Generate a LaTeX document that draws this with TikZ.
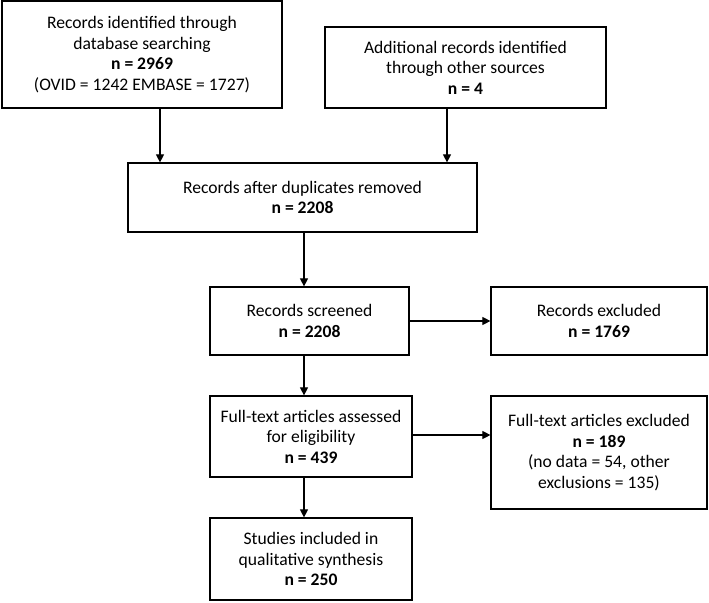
\documentclass[tikz,border=0pt]{standalone}
\usepackage{fontspec}
\setmainfont{Carlito}
\usetikzlibrary{arrows.meta}
\begin{document}
\begin{tikzpicture}[x=1pt,y=-1pt,
  box/.style={draw,line width=1.2pt,align=center,inner sep=0pt,
    font=\fontsize{17.6}{20.5}\selectfont},
  arr/.style={line width=1.1pt,-{Triangle[length=8pt,width=8pt]}}]
  \useasboundingbox (0,0) rectangle (709,602);
  % identification
  \node[box,minimum width=280,minimum height=107] (ident) at (142,54.5)
    {Records identified through\\database searching\\\textbf{n = 2969}\\(OVID = 1242 EMBASE = 1727)};
  \node[box,minimum width=281,minimum height=81] (other) at (465.5,67.5)
    {Additional records identified\\through other sources\\\textbf{n = 4}};
  \node[box,minimum width=349,minimum height=69] (dupl) at (302.5,197.5)
    {Records after duplicates removed\\\textbf{n = 2208}};
  % screening
  \node[box,minimum width=199,minimum height=68] (screen) at (309.5,321)
    {Records screened\\\textbf{n = 2208}};
  \node[box,minimum width=216,minimum height=68] (excl) at (599,321)
    {Records excluded\\\textbf{n = 1769}};
  % eligibility
  \node[box,minimum width=202,minimum height=81] (full) at (311,436.5)
    {Full-text articles assessed\\for eligibility\\\textbf{n = 439}};
  \node[box,minimum width=216,minimum height=113] (fullexcl) at (599,452.5)
    {Full-text articles excluded\\\textbf{n = 189}\\(no data = 54, other\\exclusions = 135)};
  % included
  \node[box,minimum width=202,minimum height=82] (incl) at (311,559)
    {Studies included in\\qualitative synthesis\\\textbf{n = 250}};
  \coordinate (a1) at (160,0);
  \coordinate (a2) at (447,0);
  \coordinate (a3) at (304,0);
  \draw[arr] (ident.south-|a1) -- (dupl.north-|a1);
  \draw[arr] (other.south-|a2) -- (dupl.north-|a2);
  \draw[arr] (dupl.south-|a3) -- (screen.north-|a3);
  \draw[arr] (screen.south-|a3) -- (full.north-|a3);
  \draw[arr] (full.south-|a3) -- (incl.north-|a3);
  \draw[arr] (screen.east) -- (excl.west);
  \draw[arr] ([yshift=1.5]full.east) -- ([yshift=1.5]full.east-|fullexcl.west);
\end{tikzpicture}
\end{document}
